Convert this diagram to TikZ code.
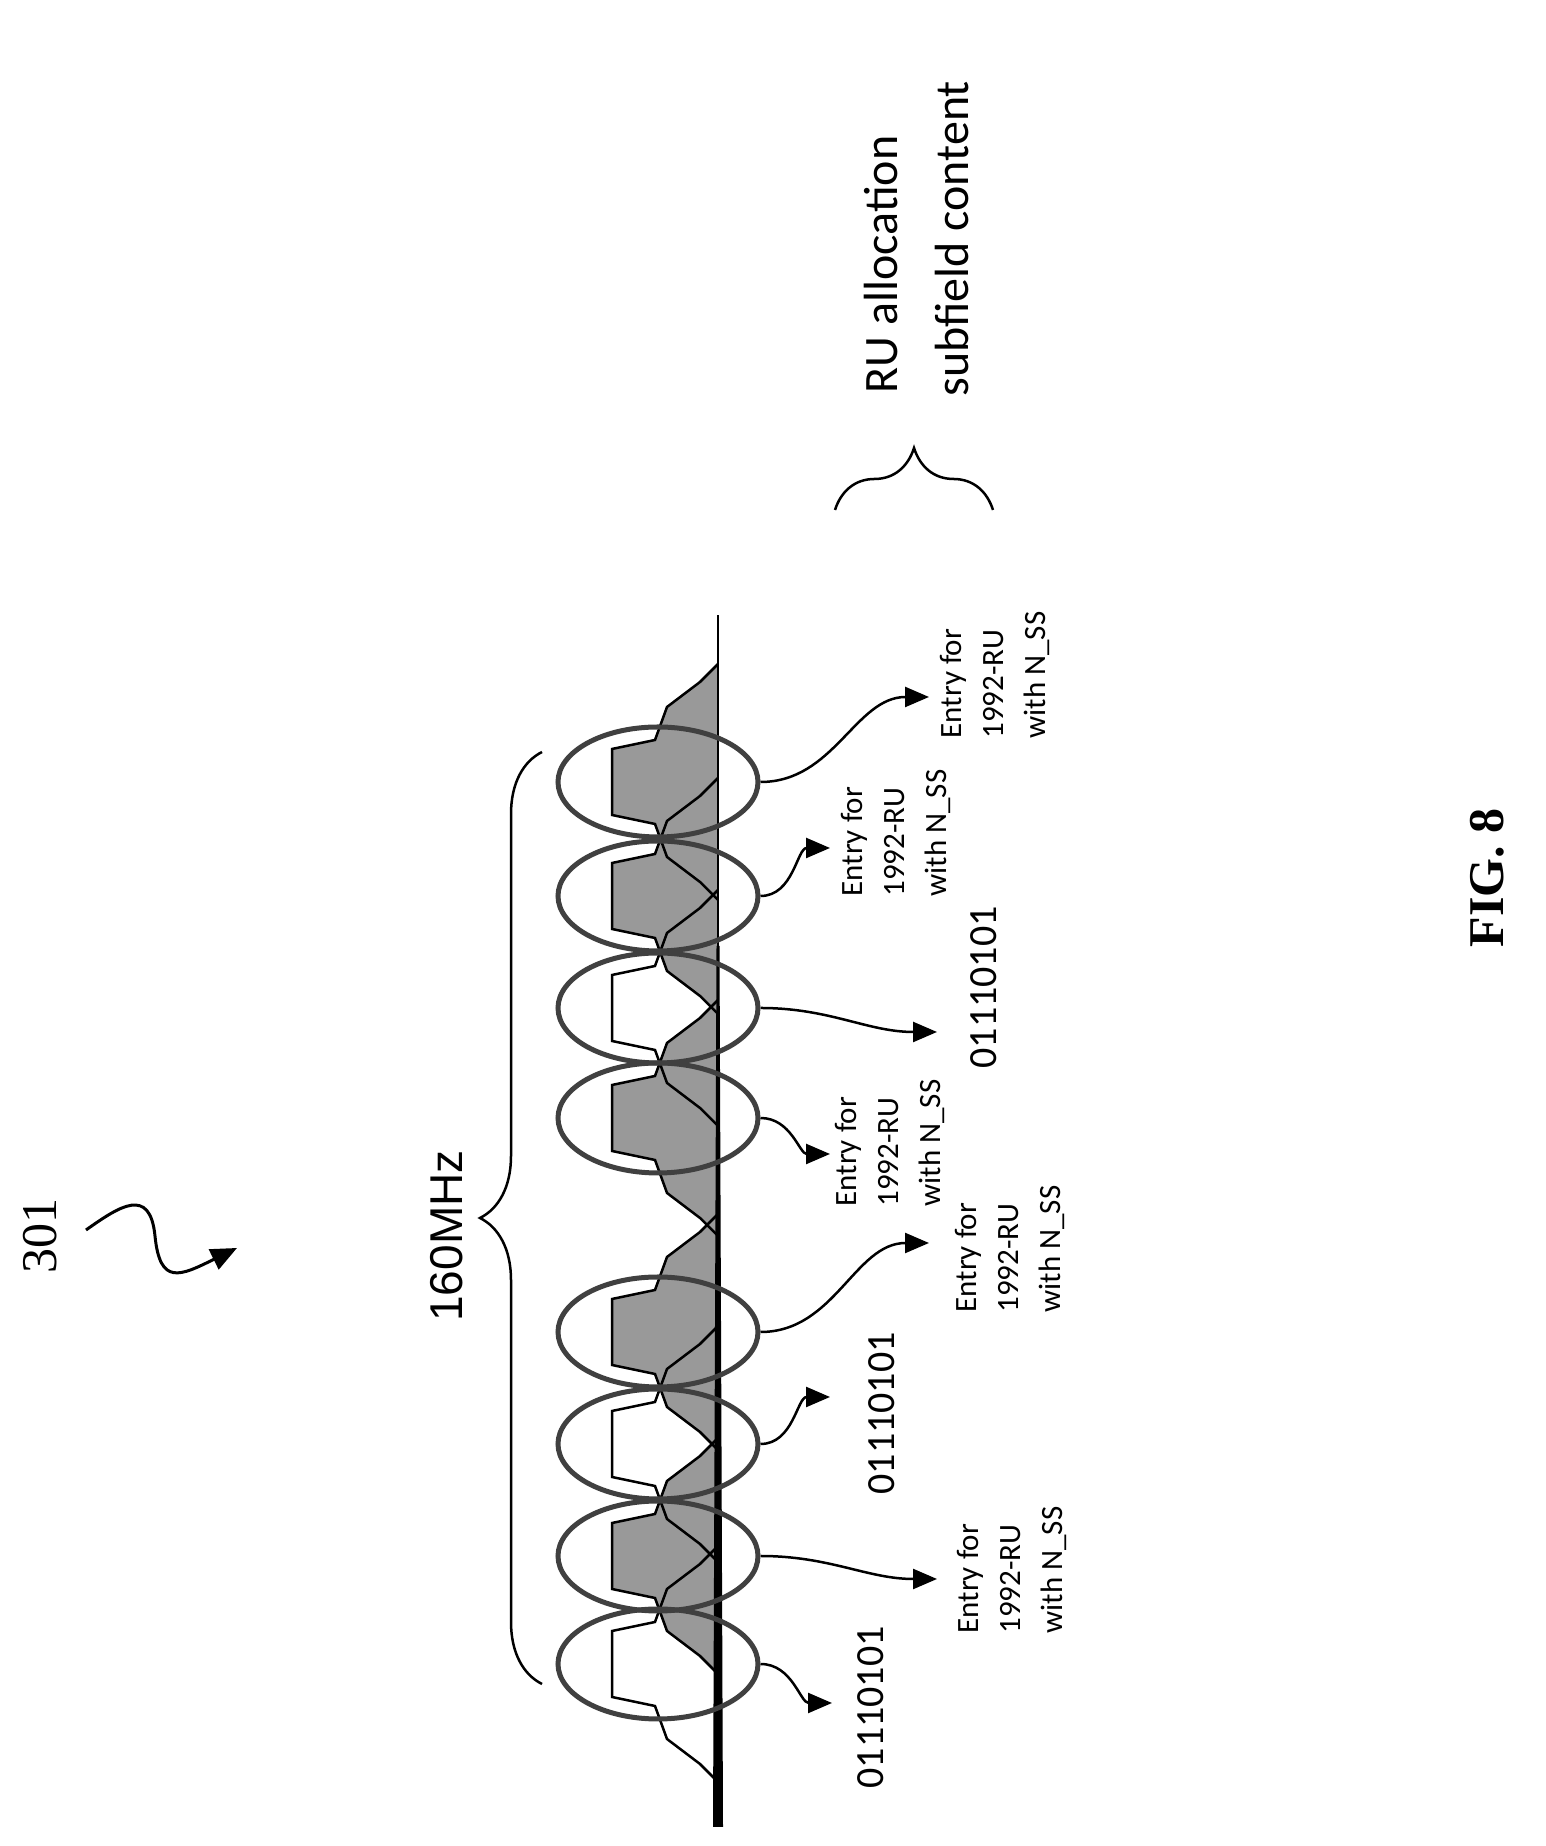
\documentclass[tikz,border=0pt]{standalone}
\usepackage{fontspec}
\setmainfont{Carlito}
\newfontfamily\arialfont{Liberation Sans}
\newfontfamily\timesfont{Liberation Serif}
\usetikzlibrary{arrows.meta,shapes.geometric,decorations.pathreplacing}

\begin{document}
\begin{tikzpicture}[x=1pt,y=1pt,
  ring/.style={ellipse,draw=black!75,line width=5pt,minimum width=200pt,minimum height=110pt,inner sep=0pt},
  pointer/.style={line width=2.5pt,-{Triangle[length=24pt,width=20pt]}},
  entry/.style={rotate=90,anchor=west,align=left,font=\fontsize{31}{42}\selectfont},
  bits/.style={rotate=90,anchor=west,font=\fontsize{40}{44}\selectfont},
  grp/.style={decorate,decoration={brace,amplitude=62pt},line width=2.5pt}]
\useasboundingbox (0,0) rectangle (1546,1846);

% spectrum bumps: fill first, outlines after
\foreach \c/\f in {182/0,290/1,402/0,514/1,728/1,838/0,950/1,1064/1}{
  \ifnum\f=1
    \fill[black!40] (718,\c-118) -- (700,\c-100) -- (667,\c-75) -- (655,\c-42) -- (612,\c-33)
      -- (612,\c+33) -- (655,\c+42) -- (667,\c+75) -- (700,\c+100) -- (718,\c+118) -- cycle;
  \fi
}
\foreach \c in {182,290,402,514,728,838,950,1064}
  \draw[line width=2.5pt] (718,\c-118) -- (700,\c-100) -- (667,\c-75) -- (655,\c-42) -- (612,\c-33)
      -- (612,\c+33) -- (655,\c+42) -- (667,\c+75) -- (700,\c+100) -- (718,\c+118);
\draw[line width=2.5pt] (718,19) -- (718,1231);
\fill (713,19) -- (723,19) -- (719.5,900) -- (716.5,900) -- cycle;

% one ring per RU
\foreach \n/\c in {1/182,2/290,3/402,4/514,5/728,6/838,7/950,8/1064}
  \node[ring] (e\n) at (658,\c) {};

\coordinate (t1) at (832,143);
\coordinate (t2) at (937,267);
\coordinate (t3) at (830,449);
\coordinate (t4) at (929,603);
\coordinate (t5) at (830,692);
\coordinate (t6) at (937,814);
\coordinate (t7) at (830,998);
\coordinate (t8) at (929,1149);
\foreach \n in {1,...,8}
  \draw[pointer] (e\n.east) to[out=0,in=180] (t\n);

\node[bits] (b1) at (871,54) {01110101};
\node[bits] (b3) at (882,348) {01110101};
\node[bits] (b6) at (984,774) {01110101};
\node[entry] (r2) at (1012,209) {Entry for\\1992-RU\\with N\_SS};
\node[entry] (r4) at (1010,530) {Entry for\\1992-RU\\with N\_SS};
\node[entry] (r5) at (890,636) {Entry for\\1992-RU\\with N\_SS};
\node[entry] (r7) at (896,946) {Entry for\\1992-RU\\with N\_SS};
\node[entry] (r8) at (995,1104) {Entry for\\1992-RU\\with N\_SS};

% bandwidth brace
\draw[grp] (542,162) -- (542,1094);
\node[rotate=90,font=\arialfont\fontsize{46}{50}\selectfont] (bw) at (447,610) {160MHz};

% subfield brace and heading
\draw[grp] (835,1336) -- (993,1336);
\node[rotate=90,anchor=base west,font=\fontsize{48}{56}\selectfont] (h1) at (897,1449) {RU allocation};
\node[rotate=90,anchor=base west,font=\fontsize{48}{56}\selectfont] (h2) at (968,1446) {subfield content};

% reference numeral
\node[rotate=90,font=\timesfont\fontsize{50}{52}\selectfont] (ref) at (40,610) {301};
\coordinate (s0) at (86,616);
\coordinate (s1) at (237,598);
\draw[line width=3pt,-{Triangle[length=26pt,width=22pt]}] (s0) .. controls (120,640) and (150,660) .. (155,610)
  .. controls (160,560) and (180,570) .. (s1);

\node[rotate=90,font=\timesfont\bfseries\fontsize{50}{52}\selectfont] (fig) at (1487,968) {FIG. 8};
\end{tikzpicture}
\end{document}
